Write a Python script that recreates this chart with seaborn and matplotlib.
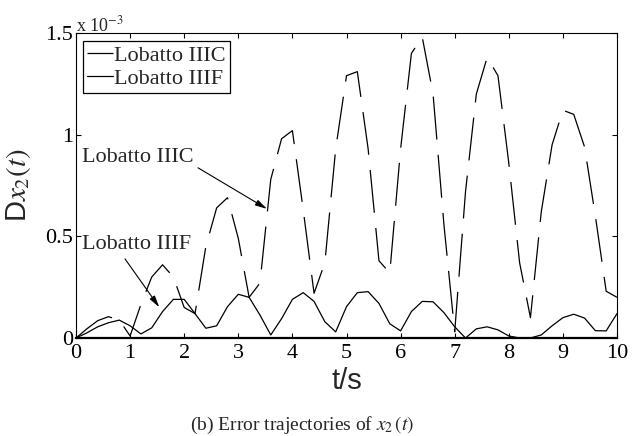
import numpy as np
import pandas as pd
import matplotlib
matplotlib.use("Agg")
import matplotlib.pyplot as plt
import seaborn as sns

# ---- data (values in units of 1e-3) ----
t = [0.0, 0.2, 0.4, 0.6, 0.8, 1.0, 1.2, 1.4, 1.6, 1.8, 2.0, 2.2, 2.4, 2.6, 2.8,
     3.0, 3.2, 3.4, 3.6, 3.8, 4.0, 4.2, 4.4, 4.6, 4.8, 5.0, 5.2, 5.4, 5.6, 5.8,
     6.0, 6.2, 6.4, 6.6, 6.8, 7.0, 7.2, 7.4, 7.6, 7.8, 8.0, 8.2, 8.4, 8.6, 8.8,
     9.0, 9.2, 9.4, 9.6, 9.8, 10.0]
lobatto_iiic = [0.0, 0.045, 0.085, 0.105, 0.088, 0.01, 0.165, 0.30, 0.36, 0.30, 0.15,
                0.12, 0.45, 0.64, 0.69, 0.49, 0.20, 0.27, 0.78, 0.98, 1.02,
                0.63, 0.22, 0.37, 0.93, 1.29, 1.31, 0.93, 0.38, 0.32,
                0.93, 1.40, 1.48, 1.20, 0.56, 0.03, 0.72, 1.20, 1.38, 1.29,
                0.86, 0.37, 0.10, 0.62, 0.95, 1.12, 1.10, 0.94, 0.60, 0.23, 0.20]
lobatto_iiif = [0.0, 0.025, 0.055, 0.075, 0.088, 0.06, 0.02, 0.05, 0.13, 0.19, 0.19,
                0.12, 0.048, 0.06, 0.154, 0.215, 0.20, 0.113, 0.015, 0.095, 0.19,
                0.223, 0.18, 0.08, 0.03, 0.154, 0.223, 0.228, 0.17, 0.07,
                0.035, 0.13, 0.18, 0.178, 0.125, 0.055, 0.0, 0.045, 0.055, 0.04,
                0.01, 0.0, 0.0, 0.015, 0.06, 0.10, 0.117, 0.098, 0.036, 0.035, 0.12]
labels = ["Lobatto IIIC", "Lobatto IIIF"]
x_ticks = list(range(0, 11))
y_ticks = [0, 0.5, 1, 1.5]
y_ticklabels = ["0", "0.5", "1", "1.5"]

sns.set_style("ticks")
plt.rcParams["font.family"] = ["Liberation Serif", "DejaVu Serif"]
plt.rcParams["mathtext.fontset"] = "stix"
plt.rcParams["lines.scale_dashes"] = False

W, H = 639, 436
fig = plt.figure(figsize=(W / 100, H / 100), dpi=100)
ax = fig.add_axes([76 / W, 1 - 338 / H, 541 / W, 305 / H])

df = pd.DataFrame({"t": t, "IIIC": lobatto_iiic, "IIIF": lobatto_iiif})
sns.lineplot(data=df, x="t", y="IIIC", ax=ax, color="k", lw=0.9, label=labels[0])
sns.lineplot(data=df, x="t", y="IIIF", ax=ax, color="k", lw=0.9, label=labels[1])
ax.lines[0].set_dashes((31, 11))

ax.set_xlim(0, 10)
ax.set_ylim(0, 1.5)
ax.set_xticks(x_ticks)
ax.set_yticks(y_ticks)
ax.set_yticklabels(y_ticklabels)
ax.tick_params(direction="in", length=3.6, width=0.8, labelsize=16, pad=4,
               top=True, right=True, colors="k")
ax.tick_params(axis="y", pad=2)
for s in ax.spines.values():
    s.set_linewidth(0.8)
    s.set_color("k")
ax.spines["bottom"].set_linewidth(1.6)

ax.set_xlabel("t/s", fontsize=21, family=["Liberation Sans", "DejaVu Sans"], labelpad=3)
ax.set_ylabel(r"D$x_2(t)$", fontsize=21, family=["Liberation Sans", "DejaVu Sans"])
ax.yaxis.set_label_coords(-0.08, 0.5)

# multiplier text
ax.text(0.0, 1.004, r"x 10$^{-3}$", transform=ax.transAxes, ha="left",
        va="baseline", fontsize=13)

leg = ax.legend(loc="upper left", bbox_to_anchor=(0.013, 0.974), borderaxespad=0,
                fontsize=16, handlelength=1.15, handletextpad=0.05,
                borderpad=0.2, labelspacing=0.1, fancybox=False, framealpha=1,
                edgecolor="k")
leg.get_frame().set_linewidth(0.9)

# annotations
arrow = dict(arrowstyle="-|>,head_length=0.7,head_width=0.18", color="k", lw=0.8,
             shrinkA=0, shrinkB=0)
ax.text(0.11, 0.887, labels[0], fontsize=16, va="center", ha="left")
ax.annotate("", xy=(3.53, 0.635), xytext=(2.255, 0.837), arrowprops=arrow)
ax.text(0.11, 0.458, labels[1], fontsize=16, va="center", ha="left")
ax.annotate("", xy=(1.54, 0.151), xytext=(0.906, 0.389), arrowprops=arrow)

fig.text(302.5 / W, 1 - 430 / H, r"(b) Error trajectories of $x_2\,(t)$",
         ha="center", va="baseline", fontsize=14)

fig.savefig("out.png", dpi=100)
